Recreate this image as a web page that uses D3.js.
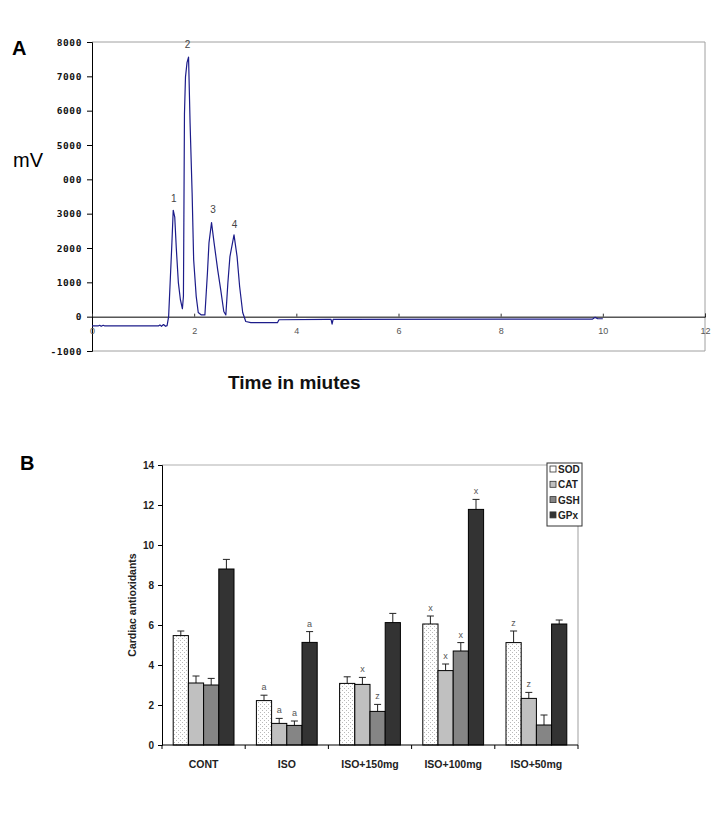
<!DOCTYPE html>
<html><head><meta charset="utf-8">
<script src="https://cdn.jsdelivr.net/npm/d3@7"></script>
<style>body{margin:0;background:#fff}svg{display:block}text{font-family:"Liberation Sans",Arial,sans-serif}</style>
</head><body><svg id="c" width="724" height="826"></svg>
<script>
// ---------- Panel A data (chromatogram) ----------
const timeA = [0.0,0.12,0.15,0.18,0.22,0.25,1.30,1.33,1.36,1.40,1.44,1.47,1.50,1.53,1.56,1.59,1.62,1.65,1.69,1.73,1.77,1.79,1.81,1.83,1.86,1.89,1.92,1.96,1.99,2.04,2.08,2.14,2.21,2.26,2.29,2.34,2.39,2.46,2.52,2.58,2.62,2.66,2.70,2.78,2.84,2.89,2.95,3.01,3.11,3.63,3.66,4.60,4.68,4.70,4.72,4.80,9.80,9.85,9.90,10.0];
const mvA = [-270,-270,-250,-280,-250,-270,-270,-240,-280,-230,-280,-260,0,1000,2000,3100,2900,2000,1000,500,230,600,5900,6980,7400,7560,5640,3600,1660,590,120,50,50,1280,2150,2740,2150,1370,780,150,50,990,1750,2380,1750,880,120,-140,-175,-175,-90,-80,-80,-220,-80,-80,-70,-20,-60,-60];
const peakNames = ["1","2","3","4"];
const peakTimes = [1.60,1.87,2.37,2.79];
const peakLabelMv = [3350,7830,3020,2570];
const yTicksA = [8000,7000,6000,5000,4000,3000,2000,1000,0,-1000];
const yTickLabelsA = ["8000","7000","6000","5000","000","3000","2000","1000","0","-1000"];
const xTicksA = [0,2,4,6,8,10,12];

// ---------- Panel B data (bar chart) ----------
const groups = ["CONT","ISO","ISO+150mg","ISO+100mg","ISO+50mg"];
const seriesNames = ["SOD","CAT","GSH","GPx"];
const sodVals = [5.47,2.22,3.08,6.05,5.12];
const catVals = [3.10,1.08,3.03,3.72,2.33];
const gshVals = [3.00,0.98,1.68,4.70,1.00];
const gpxVals = [8.80,5.13,6.12,11.78,6.05];
const sodErr = [0.23,0.27,0.33,0.40,0.58];
const catErr = [0.35,0.25,0.35,0.33,0.30];
const gshErr = [0.33,0.22,0.35,0.42,0.50];
const gpxErr = [0.48,0.54,0.46,0.50,0.20];
const sodSig = ["","a","","x","z"];
const catSig = ["","a","x","x","z"];
const gshSig = ["","a","z","x",""];
const gpxSig = ["","a","","x",""];
const yTicksB = [0,2,4,6,8,10,12,14];

const svg = d3.select("#c");
svg.append("rect").attr("width",724).attr("height",826).attr("fill","#fff");

// ================= Panel A =================
const xA = d3.scaleLinear().domain([0,12]).range([92,705]);
const yA = d3.scaleLinear().domain([-1000,8000]).range([351,42]);
const gA = svg.append("g");
gA.append("path").attr("d",`M${xA(0)},${yA(8000)}H${xA(12)}V${yA(-1000)}H${xA(0)}`)
  .attr("fill","none").attr("stroke","#a0a0a0").attr("stroke-width",1);
const axL = d3.axisLeft(yA).tickValues(yTicksA).tickSize(5).tickFormat((d,i)=>yTickLabelsA[i]);
const gL = gA.append("g").attr("transform",`translate(${xA(0)},0)`).call(axL);
gL.select(".domain").attr("stroke","#000");
gL.selectAll(".tick line").attr("stroke","#000");
gL.selectAll(".tick text").attr("x",-10).attr("font-size",9.5).attr("font-weight","bold")
  .attr("fill","#111").attr("letter-spacing","0.6px").style("font-family","'DejaVu Sans Mono',monospace");
const axX = d3.axisBottom(xA).tickValues(xTicksA).tickSize(-3).tickPadding(11).tickFormat(d3.format("d"));
const gX = gA.append("g").attr("transform",`translate(0,${yA(0)})`).call(axX);
gX.select(".domain").attr("stroke","#000");
gX.selectAll(".tick line").attr("stroke","#333");
gX.selectAll(".tick text").attr("font-size",9).attr("fill","#555");
const ptsA = timeA.map((t,i)=>[t,mvA[i]]);
gA.append("path").datum(ptsA)
  .attr("d",d3.line().x(d=>xA(d[0])).y(d=>yA(d[1])))
  .attr("fill","none").attr("stroke","#1c1c8a").attr("stroke-width",1.2).attr("stroke-linejoin","round");
gA.selectAll(".pk").data(peakNames).enter().append("text")
  .attr("x",(d,i)=>xA(peakTimes[i])).attr("y",(d,i)=>yA(peakLabelMv[i]))
  .attr("text-anchor","middle").attr("font-size",10).attr("fill","#444").text(d=>d);
svg.append("text").attr("x",12).attr("y",55).attr("font-size",20).attr("font-weight","bold").text("A");
svg.append("text").attr("x",13).attr("y",167).attr("font-size",20).text("mV");
svg.append("text").attr("x",228).attr("y",389).attr("font-size",19).attr("font-weight","bold").attr("fill","#111").text("Time in miutes");

// ================= Panel B =================
const xB = d3.scaleBand().domain(groups).range([162,578]).paddingInner(0).paddingOuter(0);
const xS = d3.scaleBand().domain(seriesNames).range([11.2,72.0]).padding(0);
const yB = d3.scaleLinear().domain([0,14]).range([745,465]);
const gB = svg.append("g");

const defs = svg.append("defs");
const pat = defs.append("pattern").attr("id","dots").attr("patternUnits","userSpaceOnUse")
  .attr("width",4).attr("height",4);
pat.append("rect").attr("width",4).attr("height",4).attr("fill","#fff");
pat.append("rect").attr("x",0).attr("y",0).attr("width",1).attr("height",1).attr("fill","#b8b8b8");
pat.append("rect").attr("x",2).attr("y",2).attr("width",1).attr("height",1).attr("fill","#b8b8b8");

const fills = ["url(#dots)","#c0c0c0","#858585","#333333"];
const legendFills = ["#fff","#c0c0c0","#858585","#333333"];
const vals = [sodVals,catVals,gshVals,gpxVals];
const errs = [sodErr,catErr,gshErr,gpxErr];
const sigs = [sodSig,catSig,gshSig,gpxSig];

gB.append("path").attr("d",`M${xB.range()[0]},${yB(14)}H${xB.range()[1]}V${yB(0)}`)
  .attr("fill","none").attr("stroke","#b0b0b0").attr("stroke-width",1.2);

const barData = [];
groups.forEach((g,gi)=>seriesNames.forEach((s,si)=>barData.push({g,s,si,v:vals[si][gi],e:errs[si][gi],l:sigs[si][gi]})));
const bx = d=>xB(d.g)+xS(d.s);
const bw = xS.bandwidth();
gB.selectAll(".eb").data(barData).enter().append("path")
  .attr("d",d=>{const cx=bx(d)+bw/2, y1=yB(d.v), y2=yB(d.v+d.e);return `M${cx},${y1}V${y2}M${cx-3.5},${y2}H${cx+3.5}`;})
  .attr("stroke","#222").attr("stroke-width",1).attr("fill","none");
gB.selectAll(".bar").data(barData).enter().append("rect")
  .attr("x",bx).attr("y",d=>yB(d.v)).attr("width",bw).attr("height",d=>yB(0)-yB(d.v))
  .attr("fill",d=>fills[d.si]).attr("stroke","#000").attr("stroke-width",1);
gB.selectAll(".sig").data(barData.filter(d=>d.l)).enter().append("text")
  .attr("x",d=>bx(d)+bw/2).attr("y",d=>yB(d.v+d.e)-5)
  .attr("text-anchor","middle").attr("font-size",9).attr("fill","#555").text(d=>d.l);

const axB = d3.axisLeft(yB).tickValues(yTicksB).tickSize(4).tickPadding(4);
const gBy = gB.append("g").attr("transform",`translate(${xB.range()[0]},0)`).call(axB);
gBy.select(".domain").attr("stroke","#000");
gBy.selectAll(".tick text").attr("font-size",10).attr("font-weight","bold").attr("fill","#222");
const gBx = gB.append("g").attr("transform",`translate(0,${yB(0)})`);
gBx.append("line").attr("x1",xB.range()[0]).attr("x2",xB.range()[1]).attr("y1",0).attr("y2",0).attr("stroke","#000");
gBx.selectAll(".tk").data(groups.concat(["_end"])).enter().append("line")
  .attr("x1",(d,i)=>i<groups.length?xB(d):xB.range()[1]).attr("x2",(d,i)=>i<groups.length?xB(d):xB.range()[1])
  .attr("y1",0).attr("y2",4).attr("stroke","#000");
gBx.selectAll(".xl").data(groups).enter().append("text")
  .attr("x",d=>xB(d)+xB.bandwidth()/2).attr("y",23).attr("text-anchor","middle")
  .attr("font-size",10.5).attr("font-weight","bold").attr("fill","#222").text(d=>d);
svg.append("text").attr("transform",`translate(136,${(yB(0)+yB(14))/2}) rotate(-90)`)
  .attr("text-anchor","middle").attr("font-size",10.5).attr("font-weight","bold").attr("fill","#222")
  .text("Cardiac antioxidants");
const lg = svg.append("g").attr("transform","translate(547,463)");
lg.append("rect").attr("width",35).attr("height",63).attr("fill","#fff").attr("stroke","#333");
seriesNames.forEach((s,i)=>{
  lg.append("rect").attr("x",3).attr("y",9+i*15.3-6).attr("width",6).attr("height",6)
    .attr("fill",legendFills[i]).attr("stroke","#333").attr("stroke-width",0.8);
  lg.append("text").attr("x",11).attr("y",9+i*15.3+1).attr("font-size",10).attr("font-weight","bold")
    .attr("fill","#222").text(s);
});
svg.append("text").attr("x",20).attr("y",470).attr("font-size",20).attr("font-weight","bold").text("B");
</script></body></html>
